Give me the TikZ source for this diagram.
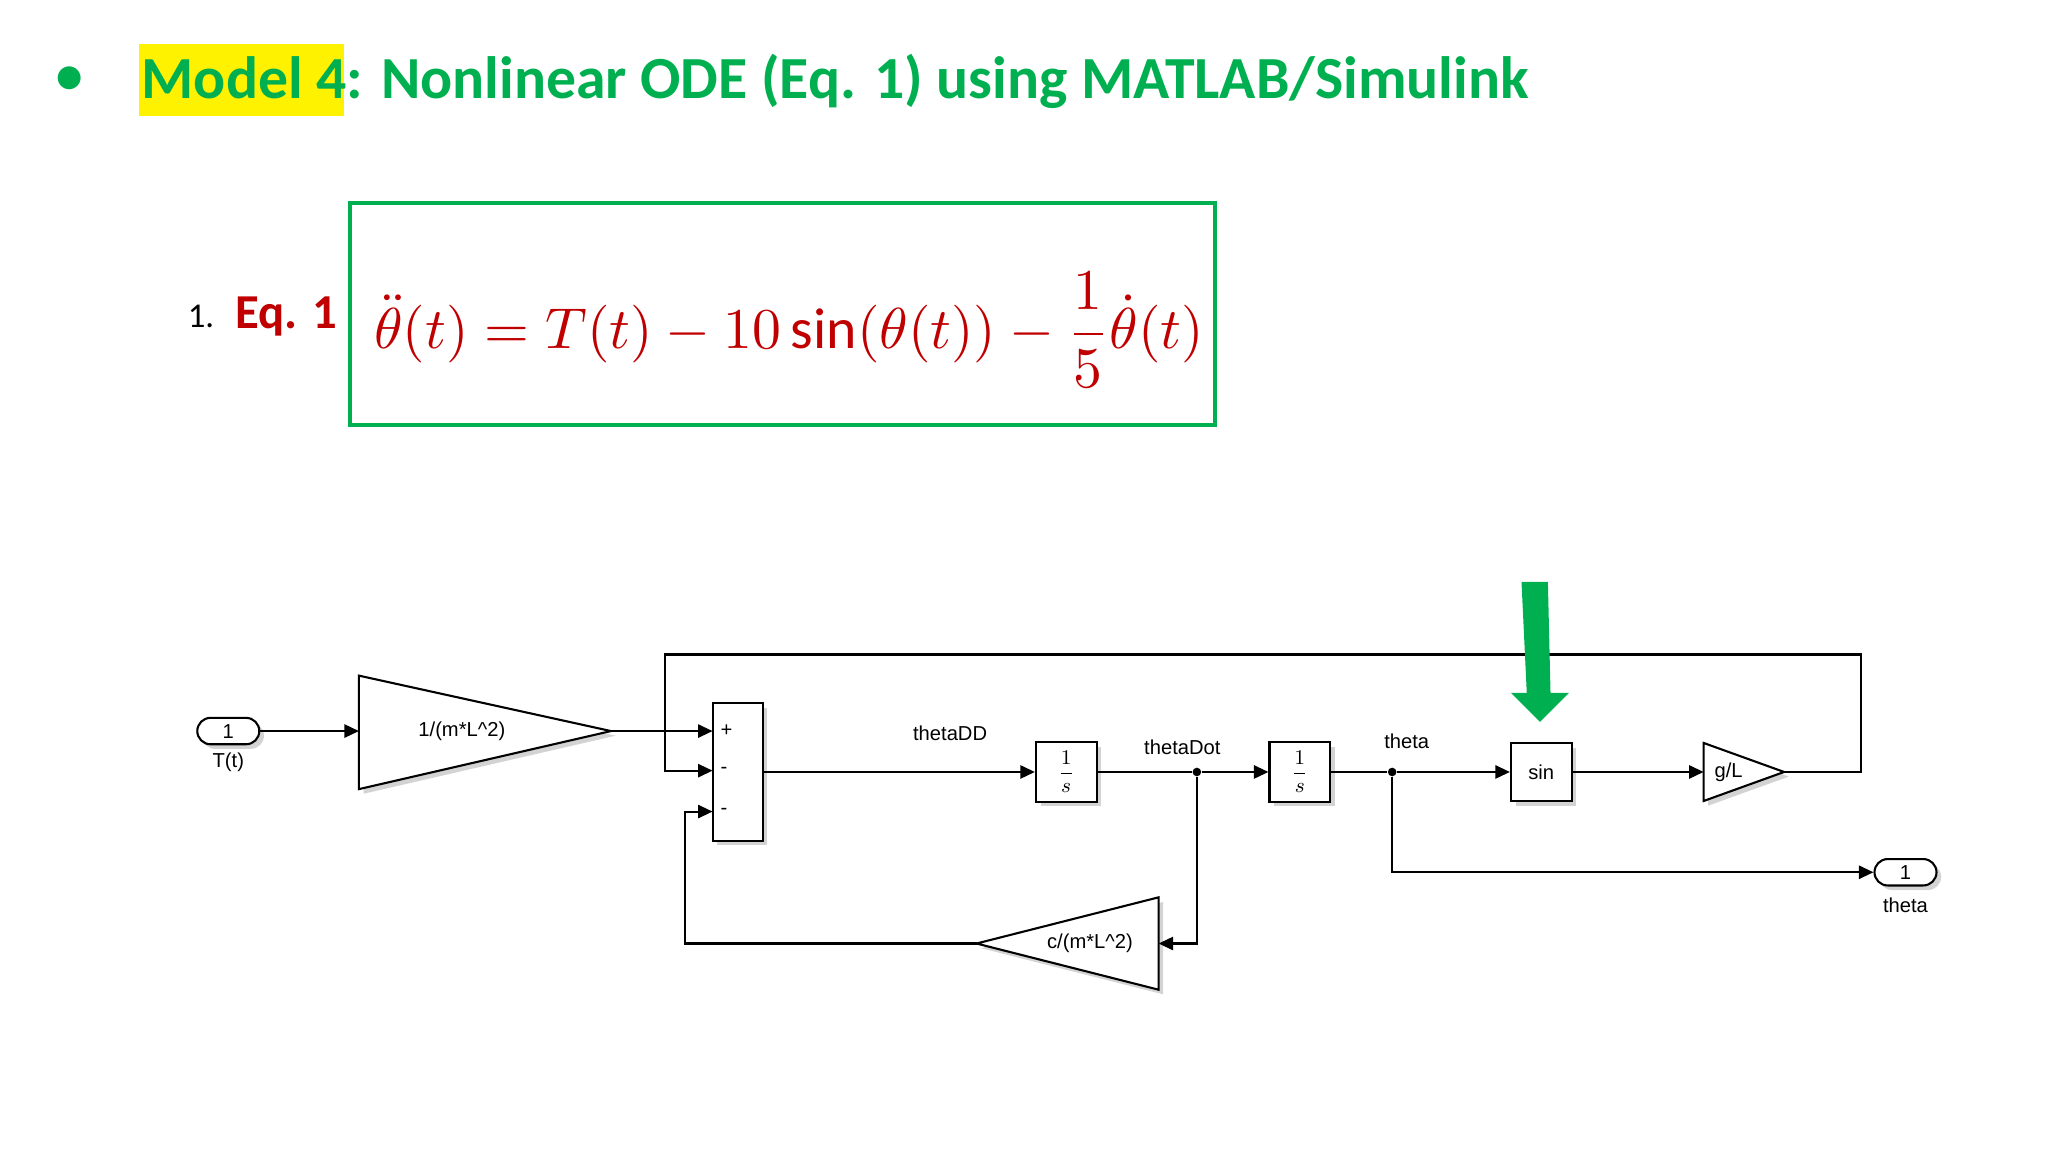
\documentclass[tikz,border=0pt]{standalone}
\usepackage{fontspec}
\usepackage{amsmath}
\usepackage{graphicx}
\setmainfont{Carlito}
\newfontfamily\arial{Liberation Sans}
\usetikzlibrary{arrows.meta,shadows}
\definecolor{tgreen}{RGB}{0,176,80}
\definecolor{tred}{RGB}{192,0,0}
\begin{document}
\begin{tikzpicture}[x=0.02cm,y=-0.02cm,
  wire/.style={line width=0.9pt},
  arr/.style={wire,-{Triangle[length=0.22cm,width=0.2cm]}},
  blk/.style={draw,line width=0.9pt,fill=white,drop shadow={opacity=0.35,shadow xshift=2pt,shadow yshift=-2pt}},
  lbl/.style={font=\arial\fontsize{8.7}{10}\selectfont},
  port/.style={draw,line width=0.9pt,rounded corners=0.2cm,fill=white,minimum width=0.94cm,minimum height=0.4cm,inner sep=0pt,font=\arial\fontsize{8.7}{10}\selectfont,drop shadow={opacity=0.35,shadow xshift=2pt,shadow yshift=-2pt}},
  dot/.style={circle,fill,inner sep=0pt,minimum size=0.13cm}]
\useasboundingbox (0,0) rectangle (1552,873);
% title
\fill[yellow] (105,33) rectangle (261,88);
\node[tgreen,font=\fontsize{28}{30}\selectfont] (bul) at (53,62) {\textbullet};
\node[anchor=west,inner sep=0pt,text=tgreen] (title) at (107,62) {\resizebox{21.02cm}{!}{\bfseries Model 4: Nonlinear ODE (Eq. 1) using MATLAB/Simulink}};
% equation
\node[anchor=west,inner sep=0pt,font=\fontsize{15}{17}\selectfont] (num) at (142,240) {1.};
\node[anchor=west,inner sep=0pt,text=tred] (eqlbl) at (178,240) {\resizebox{1.54cm}{!}{\bfseries Eq. 1}};
\node[draw=tgreen,line width=1.8pt,minimum width=13.12cm,minimum height=3.36cm,inner sep=0pt] (eqbox) at (593,238) {};
\node[text=tred,inner sep=0pt] (eq) at (598,250) {\resizebox{12.58cm}{!}{$\displaystyle\ddot{\theta}(t)=T(t)-10\sin(\theta(t))-\frac{1}{5}\dot{\theta}(t)$}};
% simulink
\node[port] (inp) at (173,554) {1};
\node[lbl] (inplbl) at (173,578) {T(t)};
\coordinate (g1in) at (272,554);
\coordinate (g1out) at (463,554);
\filldraw[blk] (272,512) -- (463,554) -- (272,598) -- cycle;
\node[lbl] (g1lbl) at (350,554) {1/(m*L\^{}2)};
\node[blk,minimum width=0.76cm,minimum height=2.08cm,inner sep=0pt] (sum) at (559,585) {};
\coordinate (s1) at (540,554); \coordinate (s2) at (540,584); \coordinate (s3) at (540,615);
\node[lbl,anchor=west,inner sep=1pt] (sp) at (544,554) {+};
\node[lbl,anchor=west,inner sep=1pt] (sm1) at (544,584) {-};
\node[lbl,anchor=west,inner sep=1pt] (sm2) at (544,615) {-};
\node[blk,minimum width=0.92cm,minimum height=0.9cm,inner sep=0pt,font=\small] (int1) at (808,585) {$\displaystyle\frac{1}{s}$};
\node[blk,minimum width=0.92cm,minimum height=0.9cm,inner sep=0pt,font=\small] (int2) at (985,585) {$\displaystyle\frac{1}{s}$};
\node[blk,minimum width=0.92cm,minimum height=0.88cm,inner sep=0pt,lbl] (sin) at (1168,585) {sin};
\filldraw[blk] (1291,563) -- (1352,585) -- (1291,607) -- cycle;
\coordinate (g2in) at (1291,585); \coordinate (g2out) at (1352,585);
\node[lbl] (g2lbl) at (1310,585) {g/L};
\filldraw[blk] (878,680) -- (740,715) -- (878,750) -- cycle;
\coordinate (g3in) at (878,715); \coordinate (g3out) at (740,715);
\node[lbl] (g3lbl) at (826,715) {c/(m*L\^{}2)};
\node[port] (outp) at (1444,661) {1};
\node[lbl] (outlbl) at (1444,686) {theta};
\node[dot] (d1) at (907,585) {};
\node[dot] (d2) at (1055,585) {};
\node[lbl] (l1) at (720,556) {thetaDD};
\node[lbl] (l2) at (896,566) {thetaDot};
\node[lbl] (l3) at (1066,562) {theta};
% wires
\draw[arr] (inp.east) -- (g1in);
\draw[arr] (g1out) -- (s1);
\draw[arr] (sum.east) -- (int1.west);
\draw[wire] (int1.east) -- (d1);
\draw[arr] (d1) -- (int2.west);
\draw[wire] (int2.east) -- (d2);
\draw[arr] (d2) -- (sin.west);
\draw[arr] (sin.east) -- (g2in);
\draw[arr] (g2out) -- (1410,585) -- (1410,496) -- (504,496) -- (504,584) -- (s2);
\draw[arr] (d1) -- (907,715) -- (g3in);
\draw[arr] (g3out) -- (519,715) -- (519,615) -- (s3);
\draw[arr] (d2) -- (1055,661) -- (outp.west);
% green arrow
\fill[tgreen] (1153,441) -- (1173,441) -- (1175,525) -- (1189,525) -- (1167,547) -- (1145,525) -- (1157,525) -- cycle;
\end{tikzpicture}
\end{document}
